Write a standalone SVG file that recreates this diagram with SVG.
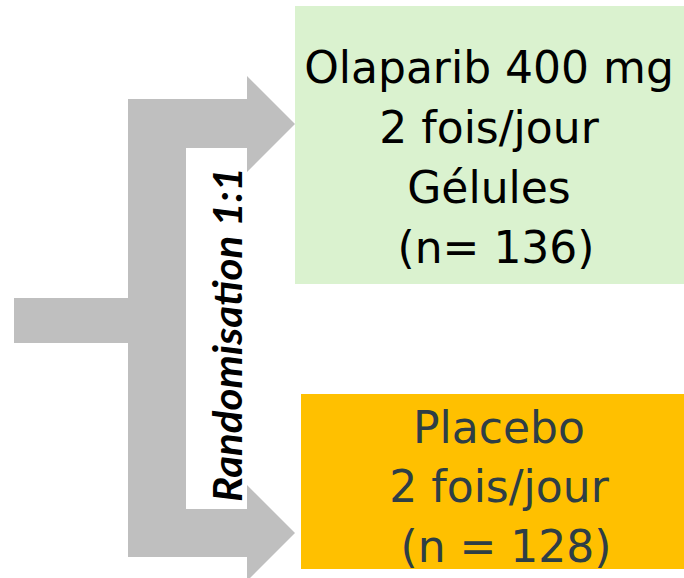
<svg xmlns="http://www.w3.org/2000/svg" width="684" height="578" viewBox="0 0 684 578">
  <style>
    .arm { fill: #bfbfbf; }
    .box-text { font-family: "DejaVu Sans", "Liberation Sans", sans-serif; font-size: 44px; text-anchor: middle; }
    .label { font-family: Lato, "Liberation Sans", sans-serif; font-size: 40px; font-weight: bold; font-style: italic; text-anchor: middle; fill: #000; }
  </style>
  <rect width="684" height="578" fill="#ffffff"/>

  <!-- Bracket arrow splitting into the two arms -->
  <g id="connectors">
    <path class="arm" d="M14,298 H128 V99 H247 V76 L295,124 L247,172 V148 H186 V509 H247 V485 L295,533 L247,581 V557 H128 V343 H14 Z"/>
  </g>

  <g id="randomisation">
    <text class="label" transform="translate(242,334.5) rotate(-90)" textLength="335" lengthAdjust="spacingAndGlyphs">Randomisation 1:1</text>
  </g>

  <g id="olaparib">
    <rect x="295" y="6" width="395" height="278" fill="#daf2cf"/>
    <text class="box-text" fill="#000000">
      <tspan x="496" y="83">Olaparib 400 mg</tspan>
      <tspan x="496" y="143">2 fois/jour</tspan>
      <tspan x="496" y="203">Gélules</tspan>
      <tspan x="496" y="263">(n= 136)</tspan>
    </text>
  </g>

  <g id="placebo">
    <rect x="301" y="394" width="389" height="175" fill="#ffc000"/>
    <text class="box-text" fill="#2e3e46">
      <tspan x="506" y="443">Placebo</tspan>
      <tspan x="506" y="502">2 fois/jour</tspan>
      <tspan x="506" y="562">(n = 128)</tspan>
    </text>
  </g>
</svg>
